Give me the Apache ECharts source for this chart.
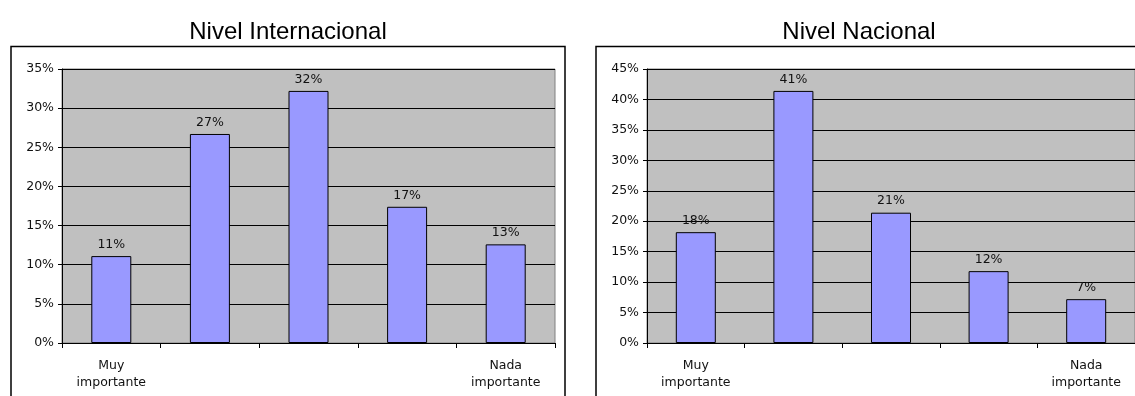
<!DOCTYPE html>
<html>
<head>
<meta charset="utf-8">
<script src="https://cdn.jsdelivr.net/npm/echarts@6/dist/echarts.min.js"></script>
<style>
html,body{margin:0;padding:0;background:#fff;}
#chart{width:1135px;height:396px;}
</style>
</head>
<body>
<div id="chart"></div>
<script>
const categories = ['Muy\nimportante', '', '', '', 'Nada\nimportante'];
const internacional = [11.1, 26.7, 32.2, 17.4, 12.6];
const nacional = [18.2, 41.4, 21.4, 11.8, 7.2];
const titles = ['Nivel Internacional', 'Nivel Nacional'];
const yMax = [35, 45];

const titleFont = 'Liberation Sans, Arial, sans-serif';
const font = 'DejaVu Sans, Verdana, sans-serif';
const fs = 12.5;
const grids = [
  {left: 62, top: 69, width: 493, height: 274},
  {left: 647, top: 69, width: 493, height: 274}
];

function xAxis(i) {
  return {
    type: 'category', gridIndex: i, data: categories, boundaryGap: true,
    axisLine: {lineStyle: {color: '#000', width: 1}},
    axisTick: {show: true, length: 5, lineStyle: {color: '#000'}},
    axisLabel: {interval: 0, fontSize: fs, color: '#111', fontFamily: font, lineHeight: 17, margin: 14}
  };
}
function yAxis(i) {
  return {
    type: 'value', gridIndex: i, min: 0, max: yMax[i], interval: 5,
    axisLine: {show: true, lineStyle: {color: '#000', width: 1}},
    axisTick: {show: true, length: 4, lineStyle: {color: '#000'}},
    axisLabel: {formatter: '{value}%', fontSize: fs, color: '#111', fontFamily: font, margin: 8},
    splitLine: {show: true, lineStyle: {color: '#000', width: 1}}
  };
}
function series(i, data) {
  return {
    type: 'bar', xAxisIndex: i, yAxisIndex: i, data: data, barWidth: 40,
    itemStyle: {color: '#9999FF', borderColor: '#000', borderWidth: 1},
    label: {show: true, position: 'top', distance: 5, fontSize: fs, color: '#111', fontFamily: font,
      formatter: p => Math.round(p.value) + '%'},
    silent: true
  };
}

const chart = echarts.init(document.getElementById('chart'), null, {renderer: 'canvas'});
chart.setOption({
  animation: false,
  backgroundColor: '#fff',
  title: [
    {text: titles[0], left: 283, top: 15, textAlign: 'center', textStyle: {fontSize: 24, fontWeight: 'normal', color: '#000', fontFamily: titleFont}},
    {text: titles[1], left: 854, top: 15, textAlign: 'center', textStyle: {fontSize: 24, fontWeight: 'normal', color: '#000', fontFamily: titleFont}}
  ],
  graphic: [
    {type: 'rect', shape: {x: 11, y: 46.5, width: 554, height: 400}, style: {fill: 'none', stroke: '#000', lineWidth: 1.5}, z: 0},
    {type: 'rect', shape: {x: 596, y: 46.5, width: 600, height: 400}, style: {fill: 'none', stroke: '#000', lineWidth: 1.5}, z: 0}
  ],
  grid: grids.map(g => Object.assign({show: true, backgroundColor: '#C0C0C0', borderColor: '#808080', borderWidth: 1}, g)),
  xAxis: [xAxis(0), xAxis(1)],
  yAxis: [yAxis(0), yAxis(1)],
  series: [series(0, internacional), series(1, nacional)]
});
</script>
</body>
</html>
